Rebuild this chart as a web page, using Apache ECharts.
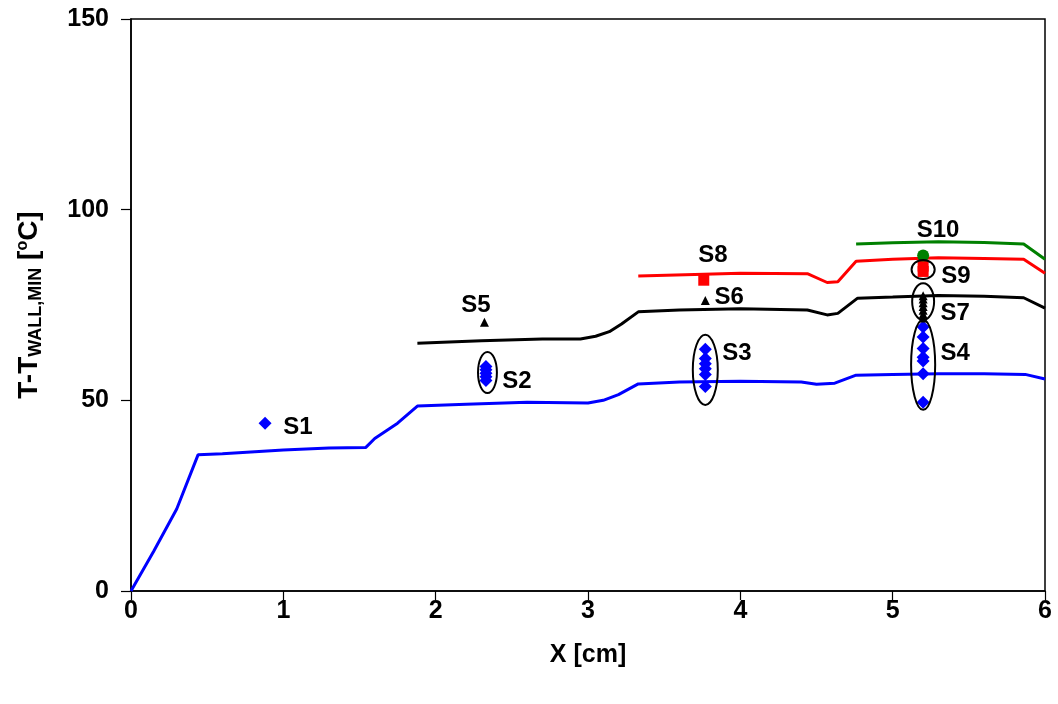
<!DOCTYPE html>
<html>
<head>
<meta charset="utf-8">
<script src="https://cdn.jsdelivr.net/npm/echarts@6/dist/echarts.min.js"></script>
<style>
  html, body { margin: 0; padding: 0; background: #fff; }
  #main { width: 1058px; height: 704px; }
</style>
</head>
<body>
<div id="main"></div>
<script>
// axis ticks
const xTicks = [0, 1, 2, 3, 4, 5, 6]
const yTicks = [0, 50, 100, 150]

// model curves
const blueX = [0, 0.15, 0.3, 0.44, 0.6, 1.0, 1.3, 1.54, 1.6, 1.75, 1.88, 2.2, 2.6, 3.0, 3.1, 3.2, 3.33, 3.6, 4.0, 4.4, 4.5, 4.62, 4.76, 5.0, 5.3, 5.6, 5.87, 6.0]
const blueY = [0, 10.5, 21.5, 35.7, 36.0, 37.0, 37.5, 37.6, 40.0, 44.0, 48.5, 49.0, 49.5, 49.3, 50.0, 51.5, 54.3, 54.8, 55.0, 54.8, 54.2, 54.5, 56.6, 56.8, 57.0, 57.0, 56.8, 55.6]
const blackX = [1.88, 2.3, 2.7, 2.95, 3.05, 3.14, 3.22, 3.33, 3.6, 4.0, 4.44, 4.57, 4.64, 4.77, 5.0, 5.3, 5.6, 5.86, 6.0]
const blackY = [65.0, 65.6, 66.1, 66.1, 66.8, 68.0, 70.0, 73.2, 73.7, 74.0, 73.7, 72.4, 72.8, 76.8, 77.1, 77.5, 77.3, 76.9, 74.2]
const redX = [3.33, 3.7, 4.0, 4.44, 4.57, 4.64, 4.76, 5.0, 5.3, 5.6, 5.86, 6.0]
const redY = [82.6, 83.0, 83.3, 83.2, 80.9, 81.1, 86.5, 87.0, 87.4, 87.2, 87.0, 83.3]
const greenX = [4.76, 5.0, 5.3, 5.6, 5.86, 6.0]
const greenY = [91.0, 91.3, 91.6, 91.4, 91.0, 87.0]

// measured points
const diamondX = [0.88, 2.33, 2.33, 2.33, 2.33, 2.33, 3.77, 3.77, 3.77, 3.77, 3.77, 3.77, 5.2, 5.2, 5.2, 5.2, 5.2, 5.2, 5.2]
const diamondY = [44.0, 55.2, 56.2, 57.1, 58.0, 58.9, 53.6, 56.8, 58.3, 59.6, 61.0, 63.4, 49.5, 57.0, 60.3, 61.3, 63.6, 66.6, 69.2]
const triangleX = [2.32, 3.77, 5.2, 5.2, 5.2, 5.2, 5.2, 5.2, 5.2]
const triangleY = [70.5, 76.2, 71.6, 72.6, 73.6, 74.6, 75.6, 76.6, 77.4]
const squareX = [3.76, 5.2, 5.2]
const squareY = [81.5, 83.8, 85.2]
const circleX = [5.2]
const circleY = [88.0]

// ellipses around groups: centre x, centre y, half width (cm), half height (degC)
const ellX = [2.34, 3.77, 5.2, 5.2, 5.2]
const ellY = [57.3, 58.0, 59.3, 75.9, 84.3]
const ellRx = [0.062, 0.082, 0.079, 0.072, 0.076]
const ellRy = [5.4, 9.2, 11.8, 4.8, 2.5]

// group names
const labelNames = ['S1', 'S2', 'S3', 'S4', 'S5', 'S6', 'S7', 'S8', 'S9', 'S10']
const labelX = [1.096, 2.534, 3.978, 5.41, 2.265, 3.926, 5.41, 3.82, 5.416, 5.298]
const labelY = [43.0, 55.1, 62.2, 62.2, 75.0, 77.1, 72.9, 87.9, 82.6, 94.7]

const zip = (xs, ys) => xs.map((x, i) => [x, ys[i]])

const font = "'Liberation Sans', Arial, sans-serif"

var myChart = echarts.init(document.getElementById('main'))

var option = {
    animation: false,
    backgroundColor: '#fff',
    grid: {
        left: 131, right: 13, top: 19, bottom: 113,
        show: true, borderColor: '#000', borderWidth: 1.5
    },
    xAxis: {
        type: 'value', min: 0, max: 6, interval: 1,
        name: 'X [cm]', nameLocation: 'middle', nameGap: 52,
        nameTextStyle: { fontFamily: font, fontWeight: 'bold', fontSize: 25, color: '#000' },
        axisLine: { lineStyle: { color: '#000', width: 1.5 } },
        axisTick: { show: true, length: 9, lineStyle: { color: '#000', width: 1.2 } },
        axisLabel: {
            fontFamily: font, fontWeight: 'bold', fontSize: 25, color: '#000', margin: 8,
            formatter: v => xTicks.includes(v) ? String(v) : ''
        },
        splitLine: { show: false }
    },
    yAxis: {
        type: 'value', min: 0, max: 150, interval: 50,
        name: '{a|T-T}{b|WALL,MIN}{a| [}{c|o}{a|C]}',
        nameLocation: 'middle', nameGap: 86, nameRotate: 90,
        nameTextStyle: {
            rich: {
                a: { fontFamily: font, fontWeight: 'bold', fontSize: 28, color: '#000', lineHeight: 32 },
                b: { fontFamily: font, fontWeight: 'bold', fontSize: 18, color: '#000', lineHeight: 32, verticalAlign: 'bottom' },
                c: { fontFamily: font, fontWeight: 'bold', fontSize: 16, color: '#000', lineHeight: 32, verticalAlign: 'top', padding: [2, 0, 0, 0] }
            }
        },
        axisLine: { show: true, lineStyle: { color: '#000', width: 1.5 } },
        axisTick: { show: true, length: 10, lineStyle: { color: '#000', width: 1.2 } },
        axisLabel: {
            fontFamily: font, fontWeight: 'bold', fontSize: 25, color: '#000', margin: 22,
            formatter: v => yTicks.includes(v) ? String(v) : ''
        },
        splitLine: { show: false }
    },
    series: [
        { type: 'line', data: zip(blueX, blueY), symbol: 'none', lineStyle: { color: '#0000ff', width: 3 }, z: 2 },
        { type: 'line', data: zip(blackX, blackY), symbol: 'none', lineStyle: { color: '#000', width: 3 }, z: 2 },
        { type: 'line', data: zip(redX, redY), symbol: 'none', lineStyle: { color: '#ff0000', width: 3 }, z: 2 },
        { type: 'line', data: zip(greenX, greenY), symbol: 'none', lineStyle: { color: '#008000', width: 3 }, z: 2 },
        { type: 'scatter', data: zip(diamondX, diamondY), symbol: 'diamond', symbolSize: 13, itemStyle: { color: '#0000ff', opacity: 1 }, z: 3 },
        { type: 'scatter', data: zip(triangleX, triangleY), symbol: 'triangle', symbolSize: 9, itemStyle: { color: '#000', opacity: 1 }, z: 3 },
        { type: 'scatter', data: zip(squareX, squareY), symbol: 'rect', symbolSize: 11, itemStyle: { color: '#ff0000', opacity: 1 }, z: 3 },
        { type: 'scatter', data: zip(circleX, circleY), symbol: 'circle', symbolSize: 12, itemStyle: { color: '#008000', opacity: 1 }, z: 3 },
        {
            type: 'custom',
            data: ellX.map((x, i) => [x, ellY[i], ellRx[i], ellRy[i]]),
            encode: { x: 0, y: 1 },
            renderItem: function (params, api) {
                var c = api.coord([api.value(0), api.value(1)])
                var s = api.size([api.value(2), api.value(3)])
                return {
                    type: 'ellipse',
                    shape: { cx: c[0], cy: c[1], rx: s[0], ry: s[1] },
                    style: { fill: 'none', stroke: '#000', lineWidth: 2 }
                }
            },
            z: 4
        },
        {
            type: 'scatter',
            data: labelNames.map((n, i) => [labelX[i], labelY[i], n]),
            symbolSize: 0,
            itemStyle: { opacity: 1 },
            label: {
                show: true, position: 'inside',
                fontFamily: font, fontWeight: 'bold', fontSize: 24, color: '#000', opacity: 1,
                formatter: p => p.value[2]
            },
            z: 5
        }
    ]
}

myChart.setOption(option)
</script>
</body>
</html>
